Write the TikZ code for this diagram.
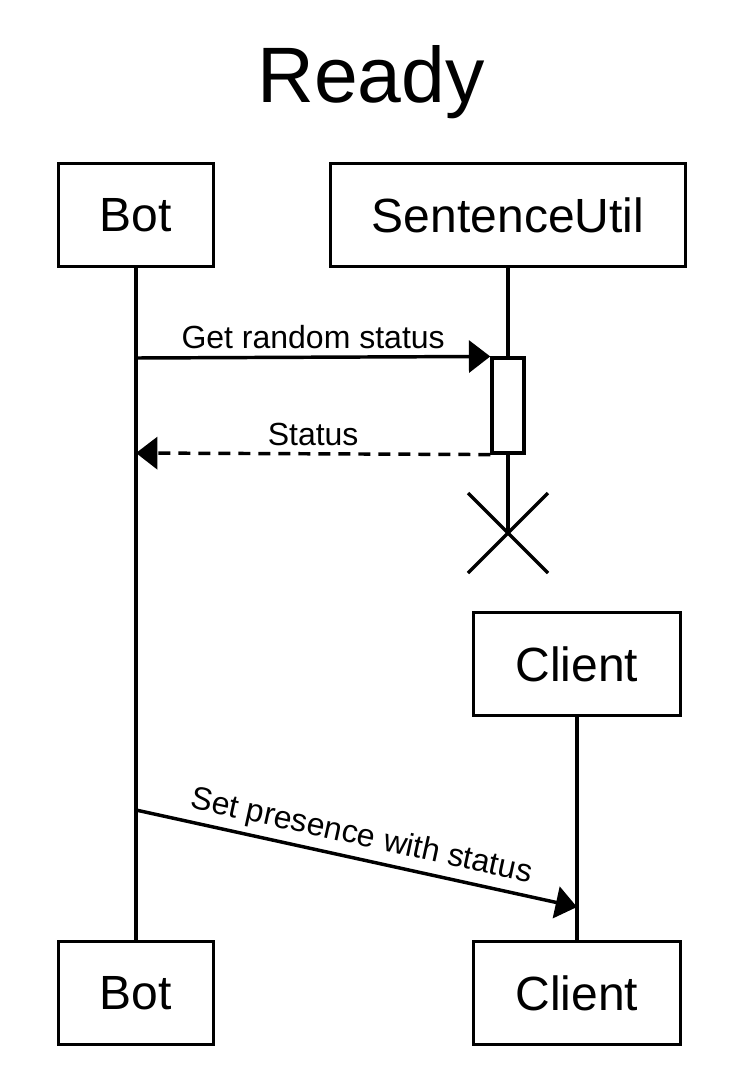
\documentclass[tikz,border=0pt]{standalone}
\usepackage{fontspec}
\setmainfont{Liberation Sans}
\usepackage{tikz}
\usetikzlibrary{arrows.meta, positioning, calc}

\begin{document}
\begin{tikzpicture}[x=0.75pt, y=-0.75pt, line width=2.6pt]
    % Styles
    \tikzstyle{actor} = [rectangle, draw, fill=white, font=\fontsize{36}{40}\selectfont, minimum height=77pt, inner sep=0pt]
    \tikzstyle{lifeline} = [draw, line width=2.6pt]
    \tikzstyle{activation} = [rectangle, draw, fill=white, minimum width=24pt, minimum height=71pt, inner sep=0pt]
    \tikzstyle{msg} = [draw, -{Triangle[length=16pt, width=24pt]}]
    \tikzstyle{reply} = [msg, dash pattern=on 9pt off 6pt]
    \tikzstyle{lbl} = [font=\fontsize{24}{28}\selectfont, inner sep=2pt]

    \useasboundingbox (0,0) rectangle (743,1065);

    % Title
    \node [font=\fontsize{59}{64}\selectfont] (title) at (371,82) {Ready};

    % Nodes
    \node [actor, minimum width=116pt] (bot) at (136,215) {Bot};
    \node [actor, minimum width=266pt] (util) at (508,215) {SentenceUtil};
    \node [actor, minimum width=155pt] (client) at (577,664) {Client};
    \node [actor, minimum width=116pt] (botend) at (136,993) {Bot};
    \node [actor, minimum width=155pt] (clientend) at (577,993) {Client};
    \coordinate (kill) at (508,533);

    % Lifelines
    \draw [lifeline] (bot.south) -- (botend.north);
    \draw [lifeline] (util.south) -- (kill);
    \draw [lifeline] (client.south) -- (clientend.north);
    \node [activation] (act) at (508,405.5) {};

    % Destroy mark
    \draw ($(kill)+(-40,-40)$) -- ($(kill)+(40,40)$);
    \draw ($(kill)+(-40,40)$) -- ($(kill)+(40,-40)$);

    % Edges
    \coordinate (b1) at (136,358);
    \coordinate (b2) at (136,453);
    \coordinate (b3) at (136,810);
    \coordinate (c1) at (577,907);
    \draw [msg] (b1) -- (act.north west) node [lbl, midway, above=3pt] {Get random status};
    \draw [reply] (act.south west) -- (b2) node [lbl, midway, above=3pt] {Status};
    \draw [msg] (b3) -- (c1) node [lbl, midway, above=2pt, sloped] {Set presence with status};
\end{tikzpicture}
\end{document}
